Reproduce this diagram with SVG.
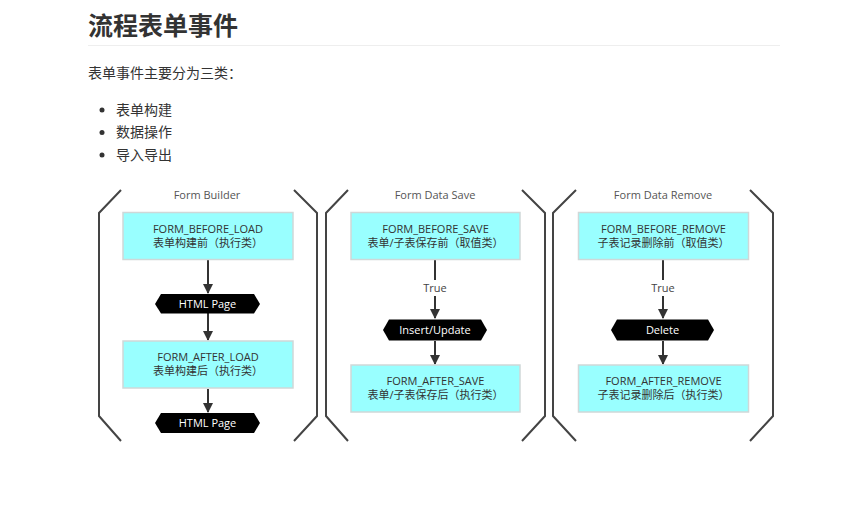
<svg xmlns="http://www.w3.org/2000/svg" width="843" height="520" viewBox="0 0 843 520">
<defs>
<marker id="ah" markerWidth="10" markerHeight="10" refX="9" refY="5" orient="auto" markerUnits="userSpaceOnUse">
<path d="M0,0 L10,5 L0,10 z" fill="#333"/>
</marker>
<style>
.cn{font-family:"Liberation Sans","Noto Sans CJK SC",sans-serif;fill:#333}
.h1{font-size:25px;font-weight:bold}
.p{font-size:14px}
.br{fill:none;stroke:#444;stroke-width:2}
.pt{font-family:"Open Sans","Noto Sans CJK SC",sans-serif;font-size:11px;fill:#555;text-anchor:middle}
.box{fill:#99FFFF;stroke:#cfd8d8;stroke-width:1.5}
.bt{font-family:"Open Sans","Noto Sans CJK SC",sans-serif;font-size:11px;fill:#333;text-anchor:middle}
.hex{fill:#000}
.ht{font-family:"Open Sans","Noto Sans CJK SC",sans-serif;font-size:11px;fill:#fff;text-anchor:middle}
.ln{stroke:#333;stroke-width:2;fill:none}
.lb{font-family:"Open Sans","Noto Sans CJK SC",sans-serif;font-size:11px;fill:#444;text-anchor:middle}
</style>
</defs>
<rect width="843" height="520" fill="#fff"/>
<g id="header">
<text class="cn h1" x="88" y="35">流程表单事件</text>
<line x1="88" y1="45.5" x2="780" y2="45.5" stroke="#eee" stroke-width="1"/>
<text class="cn p" x="88" y="78">表单事件主要分为三类：</text>
<circle cx="102" cy="110" r="2.5" fill="#333"/>
<text class="cn p" x="116" y="115">表单构建</text>
<circle cx="102" cy="132.5" r="2.5" fill="#333"/>
<text class="cn p" x="116" y="137">数据操作</text>
<circle cx="102" cy="155" r="2.5" fill="#333"/>
<text class="cn p" x="116" y="160">导入导出</text>
</g>
<g id="brackets">
<path class="br" d="M121,190 L99,213 L99,416 L121,441"/>
<path class="br" d="M294,190 L317,213 L317,416 L294,441"/>
<path class="br" d="M348,190 L326,213 L326,416 L348,441"/>
<path class="br" d="M522,190 L545,213 L545,416 L522,441"/>
<path class="br" d="M576,190 L553,213 L553,416 L576,441"/>
<path class="br" d="M750,190 L773,213 L773,416 L750,441"/>
</g>
<g id="titles">
<text class="pt" x="207" y="199">Form Builder</text>
<text class="pt" x="435" y="199">Form Data Save</text>
<text class="pt" x="663" y="199">Form Data Remove</text>
</g>
<g id="connectors">
<line class="ln" x1="208" y1="260" x2="208" y2="293" marker-end="url(#ah)"/>
<line class="ln" x1="208" y1="313" x2="208" y2="340" marker-end="url(#ah)"/>
<line class="ln" x1="208" y1="389" x2="208" y2="412" marker-end="url(#ah)"/>
<line class="ln" x1="435" y1="260" x2="435" y2="280"/>
<text class="lb" x="435" y="292">True</text>
<line class="ln" x1="435" y1="296" x2="435" y2="318" marker-end="url(#ah)"/>
<line class="ln" x1="435" y1="341" x2="435" y2="364" marker-end="url(#ah)"/>
<line class="ln" x1="663" y1="260" x2="663" y2="280"/>
<text class="lb" x="663" y="292">True</text>
<line class="ln" x1="663" y1="296" x2="663" y2="318" marker-end="url(#ah)"/>
<line class="ln" x1="663" y1="341" x2="663" y2="364" marker-end="url(#ah)"/>
</g>
<g id="form_before_load">
<rect class="box" x="123" y="212.5" width="170" height="47"/>
<text class="bt" x="208" y="233">FORM_BEFORE_LOAD</text>
<text class="bt" x="208" y="247">表单构建前（执行类）</text>
</g>
<g id="html_page_1">
<polygon class="hex" points="155,304 161,294 254,294 260,304 254,313.5 161,313.5"/>
<text class="ht" x="207.5" y="308">HTML Page</text>
</g>
<g id="form_after_load">
<rect class="box" x="123" y="341" width="170" height="47"/>
<text class="bt" x="208" y="361">FORM_AFTER_LOAD</text>
<text class="bt" x="208" y="375">表单构建后（执行类）</text>
</g>
<g id="html_page_2">
<polygon class="hex" points="155,423 161,413 254,413 260,423 254,433 161,433"/>
<text class="ht" x="207.5" y="427">HTML Page</text>
</g>
<g id="form_before_save">
<rect class="box" x="351" y="212.5" width="169" height="47"/>
<text class="bt" x="435.5" y="233">FORM_BEFORE_SAVE</text>
<text class="bt" x="435.5" y="247">表单/子表保存前（取值类）</text>
</g>
<g id="insert_update">
<polygon class="hex" points="383,330 389,319.5 481,319.5 487,330 481,340.5 389,340.5"/>
<text class="ht" x="435" y="334">Insert/Update</text>
</g>
<g id="form_after_save">
<rect class="box" x="351" y="365" width="169" height="47"/>
<text class="bt" x="435.5" y="385">FORM_AFTER_SAVE</text>
<text class="bt" x="435.5" y="399">表单/子表保存后（执行类）</text>
</g>
<g id="form_before_remove">
<rect class="box" x="578.5" y="212.5" width="170" height="47"/>
<text class="bt" x="663.5" y="233">FORM_BEFORE_REMOVE</text>
<text class="bt" x="663.5" y="247">子表记录删除前（取值类）</text>
</g>
<g id="delete">
<polygon class="hex" points="611,330 617,319.5 708,319.5 714,330 708,340.5 617,340.5"/>
<text class="ht" x="662.5" y="334">Delete</text>
</g>
<g id="form_after_remove">
<rect class="box" x="578.5" y="365" width="170" height="47"/>
<text class="bt" x="663.5" y="385">FORM_AFTER_REMOVE</text>
<text class="bt" x="663.5" y="399">子表记录删除后（执行类）</text>
</g>
</svg>
